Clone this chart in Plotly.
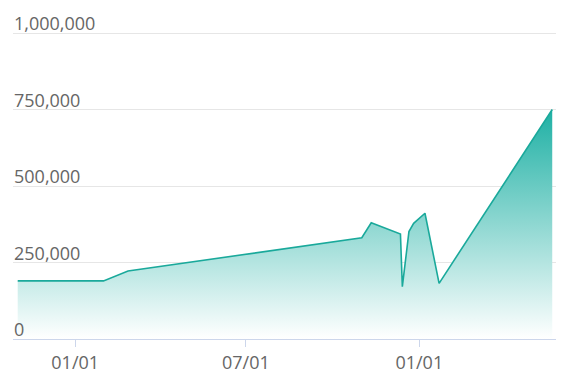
import plotly.graph_objects as go

dates = ["2020-11-01", "2021-01-31", "2021-02-26", "2021-11-01", "2021-11-11",
         "2021-12-12", "2021-12-14", "2021-12-21", "2021-12-26", "2022-01-07",
         "2022-01-22", "2022-05-22"]
values = [190000, 190000, 222000, 331000, 380000, 343000, 171000, 351000,
          378000, 411000, 182000, 750000]
x_tickvals = ["2021-01-01", "2021-07-01", "2022-01-01"]
x_ticktext = ["01/01", "07/01", "01/01"]
y_tickvals = [0, 250000, 500000, 750000, 1000000]
y_ticktext = ["0", "250,000", "500,000", "750,000", "1,000,000"]

fig = go.Figure()
fig.add_trace(go.Scatter(
    x=dates, y=values, mode="lines",
    line=dict(color="#1aa99b", width=1.6),
    fill="tozeroy",
    fillgradient=dict(type="vertical",
                      colorscale=[[0, "rgba(255,255,255,1)"], [1, "rgb(30,176,164)"]]),
    hoverinfo="skip",
))

font = dict(family="Open Sans", size=18, color="#666666")
annotations = [
    dict(x=0, xref="paper", y=v, yref="y", text=t, showarrow=False,
         xanchor="left", yanchor="bottom", xshift=-1, yshift=-4, font=font)
    for v, t in zip(y_tickvals, y_ticktext)
]
fig.update_layout(
    width=570, height=387,
    margin=dict(l=13, r=14, t=30, b=48),
    paper_bgcolor="white", plot_bgcolor="white",
    showlegend=False,
    font=font,
    annotations=annotations,
    xaxis=dict(
        type="date",
        range=["2020-10-27", "2022-05-26"],
        tickvals=x_tickvals, ticktext=x_ticktext,
        showgrid=False, showline=True, linecolor="#ccd6eb", linewidth=1,
        ticks="outside", ticklen=7, tickcolor="#ccd6eb",
        zeroline=False, tickfont=font,
    ),
    yaxis=dict(
        range=[0, 1010000],
        tickvals=y_tickvals,
        showticklabels=False,
        showgrid=True, gridcolor="#e6e6e6", gridwidth=1,
        zeroline=False, showline=False,
    ),
)

fig.write_html("out.html")
